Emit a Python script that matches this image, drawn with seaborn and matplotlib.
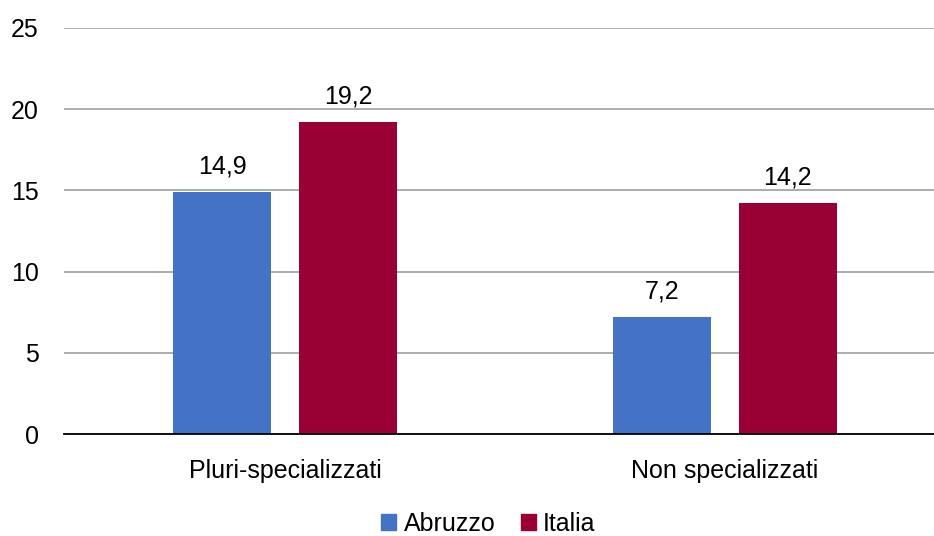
import matplotlib
matplotlib.use("Agg")
import matplotlib.pyplot as plt
import seaborn as sns
import pandas as pd

categories = ["Pluri-specializzati", "Non specializzati"]
regions = ["Abruzzo", "Italia"]
abruzzo = [14.9, 7.2]
italia = [19.2, 14.2]
y_ticks = [0, 5, 10, 15, 20, 25]
colors = ["#4472C4", "#990033"]

df = pd.DataFrame({
    "categoria": categories * 2,
    "area": [regions[0]] * len(categories) + [regions[1]] * len(categories),
    "valore": abruzzo + italia,
})

sns.set_theme(style="white")
plt.rcParams["font.family"] = ["Liberation Sans", "DejaVu Sans"]
plt.rcParams["text.color"] = "black"
FS = 18

fig = plt.figure(figsize=(9.34, 5.36), dpi=100)
ax = fig.add_axes([64 / 934, 1 - 434 / 536, (934 - 64) / 934, (434 - 28) / 536])

sns.barplot(data=df, x="categoria", y="valore", hue="area", hue_order=regions,
            palette=colors, width=0.572, gap=0.22, saturation=1, linewidth=0,
            ax=ax, legend=False, errorbar=None)

for container in ax.containers:
    labels = [f"{b.get_height():.1f}".replace(".", ",") for b in container]
    ax.bar_label(container, labels=labels, padding=10, fontsize=FS, color="black")

ax.set_ylim(0, 25)
ax.set_yticks(y_ticks)
ax.set_xlim((64 - 285) / 440, (934 - 285) / 440)
ax.yaxis.grid(True, color="#A6A6A6", linewidth=1.3)
ax.set_axisbelow(True)
for side in ["top", "right", "left"]:
    ax.spines[side].set_visible(False)
ax.spines["bottom"].set_color("black")
ax.spines["bottom"].set_linewidth(1.3)
ax.tick_params(axis="both", length=0, labelsize=FS, colors="black")
ax.tick_params(axis="y", pad=18)
ax.tick_params(axis="x", pad=18)
ax.set_xlabel("")
ax.set_ylabel("")

handles = [plt.Rectangle((0, 0), 1, 1, color=c) for c in colors]
fig.legend(handles, regions, loc="center", bbox_to_anchor=(0.523, 1 - 524 / 536),
           ncol=2, frameon=False, fontsize=FS, labelcolor="black",
           handlelength=0.6, handleheight=0.6,
           handletextpad=0.3, columnspacing=1.0)

fig.savefig("out.png", dpi=100)
